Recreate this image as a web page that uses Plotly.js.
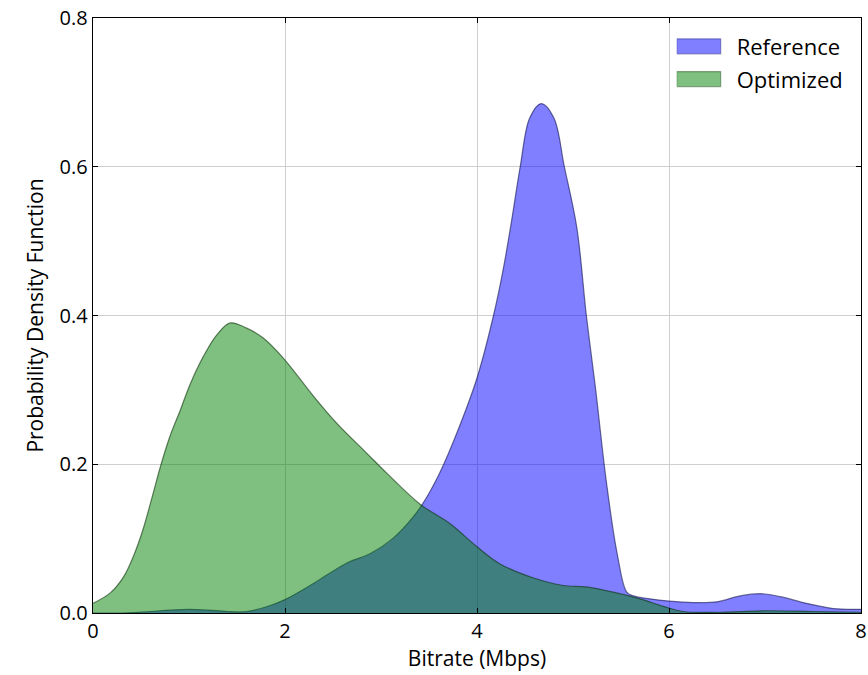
<!DOCTYPE html>
<html>
<head>
<meta charset="utf-8">
<script src="https://cdn.plot.ly/plotly-3.0.1.min.js"></script>
<style>html,body{margin:0;padding:0;background:#fff;}#chart{width:868px;height:675px;}</style>
</head>
<body>
<div id="chart"></div>
<script>
const refX = [0, 0.3, 0.6, 0.8, 1.0, 1.2, 1.4, 1.6, 1.8, 2.0, 2.3, 2.64, 2.89, 3.13, 3.34, 3.44, 3.61, 3.79, 4.0, 4.17, 4.27, 4.36, 4.45, 4.55, 4.67, 4.80, 4.91, 5.04, 5.14, 5.23, 5.35, 5.46, 5.56, 5.63, 5.8, 6.0, 6.25, 6.5, 6.74, 6.95, 7.16, 7.43, 7.71, 8.0];
const refY = [0.0, 0.0, 0.002, 0.004, 0.005, 0.004, 0.002, 0.002, 0.008, 0.018, 0.040, 0.067, 0.080, 0.101, 0.130, 0.148, 0.188, 0.242, 0.316, 0.399, 0.460, 0.527, 0.600, 0.666, 0.685, 0.666, 0.600, 0.518, 0.399, 0.307, 0.174, 0.080, 0.028, 0.023, 0.019, 0.016, 0.014, 0.015, 0.023, 0.026, 0.022, 0.013, 0.006, 0.005];
const optX = [0, 0.18, 0.32, 0.42, 0.52, 0.61, 0.705, 0.80, 0.91, 1.01, 1.15, 1.29, 1.43, 1.60, 1.77, 1.98, 2.30, 2.54, 2.85, 3.06, 3.41, 3.72, 4.0, 4.24, 4.59, 4.90, 5.14, 5.42, 5.70, 5.94, 6.15, 6.5, 7.0, 7.5, 8.0];
const optY = [0.013, 0.027, 0.049, 0.076, 0.112, 0.153, 0.198, 0.237, 0.273, 0.307, 0.345, 0.374, 0.390, 0.383, 0.370, 0.343, 0.291, 0.255, 0.215, 0.188, 0.146, 0.120, 0.089, 0.066, 0.047, 0.037, 0.035, 0.028, 0.019, 0.009, 0.002, 0.001, 0.003, 0.002, 0.001];
const seriesNames = ['Reference', 'Optimized'];
const xTicks = [0, 2, 4, 6, 8];
const yTicks = [0.0, 0.2, 0.4, 0.6, 0.8];

const FONT = 'Open Sans, sans-serif';
const traces = [
  {x: refX, y: refY, name: seriesNames[0], type: 'scatter', mode: 'lines', fill: 'tozeroy', legend: 'legend',
   fillcolor: 'rgba(0,0,255,0.5)', line: {color: 'rgba(20,20,80,0.6)', width: 1.2, shape: 'spline', smoothing: 1.0}},
  {x: optX, y: optY, name: seriesNames[1], type: 'scatter', mode: 'lines', fill: 'tozeroy', legend: 'legend2',
   fillcolor: 'rgba(0,128,0,0.5)', line: {color: 'rgba(10,50,10,0.6)', width: 1.2, shape: 'spline', smoothing: 1.0}}
];
const axisCommon = {
  showline: true, linecolor: '#000', linewidth: 1.3, mirror: 'ticks',
  ticks: 'inside', ticklen: 5, tickcolor: '#000',
  showgrid: true, gridcolor: '#cfcfcf', gridwidth: 1, zeroline: false,
  tickfont: {family: FONT, size: 20, color: '#000'}
};
const legendCommon = {xanchor: 'left', yanchor: 'middle', bgcolor: 'rgba(255,255,255,0)', itemwidth: 50,
  borderwidth: 0, font: {family: FONT, size: 22, color: '#000'}};
const layout = {
  width: 868, height: 675,
  margin: {l: 93, r: 7, t: 18, b: 62},
  paper_bgcolor: '#fff', plot_bgcolor: '#fff',
  showlegend: true,
  legend: Object.assign({}, legendCommon, {x: 0.76, y: 0.952}),
  legend2: Object.assign({}, legendCommon, {x: 0.76, y: 0.897}),
  xaxis: Object.assign({}, axisCommon, {range: [0, 8], tickvals: xTicks, ticktext: xTicks.map(String),
    title: {text: 'Bitrate (Mbps)', font: {family: FONT, size: 21, color: '#000'}, standoff: 6}}),
  yaxis: Object.assign({}, axisCommon, {range: [0, 0.8], tickvals: yTicks, ticktext: yTicks.map(v => v.toFixed(1)),
    title: {text: 'Probability Density Function', font: {family: FONT, size: 21, color: '#000'}, standoff: 10}})
};
Plotly.newPlot('chart', traces, layout, {displayModeBar: false, staticPlot: true}).then(function () {
  const strokes = ['rgba(30,30,120,0.7)', 'rgba(20,70,20,0.7)'];
  const fills = ['#7f7fff', '#7fbf7f'];
  document.querySelectorAll('g.traces').forEach(function (g, i) {
    const rect = 'M0,-7.5h44v15h-44z';
    g.querySelectorAll('.legendfill path').forEach(function (p) {
      p.setAttribute('d', rect); p.style.fill = fills[i % 2]; p.style.opacity = 1; p.style.fillOpacity = 1;
    });
    g.querySelectorAll('.legendlines path').forEach(function (p) {
      p.setAttribute('d', rect); p.style.stroke = strokes[i % 2]; p.style.strokeWidth = '1.2px'; p.style.fill = 'none';
    });
  });
});
</script>
</body>
</html>
